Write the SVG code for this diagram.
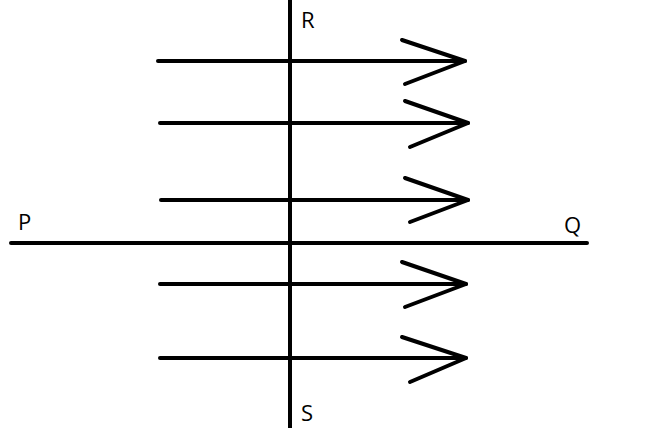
<svg xmlns="http://www.w3.org/2000/svg" width="646" height="428" viewBox="0 0 646 428">
<style>
line,polyline{stroke:#000;stroke-width:4;fill:none;stroke-linecap:round;stroke-linejoin:round}
text{font-family:"Open Sans","Liberation Sans",Arial,sans-serif;font-size:22px;fill:#000}
</style>
<rect width="646" height="428" fill="#fff"/>
<g id="axes">
<line x1="290" y1="0" x2="290" y2="428"/>
<line x1="11" y1="243" x2="587" y2="243"/>
</g>
<g id="connectors">
<line x1="158" y1="61" x2="465" y2="61"/><polyline points="402,40 465,61 405,84"/>
<line x1="160" y1="123" x2="468" y2="123"/><polyline points="405,101 468,123 410,147"/>
<line x1="161" y1="200" x2="468" y2="200"/><polyline points="405,178 468,200 410,222"/>
<line x1="160" y1="284" x2="466" y2="284"/><polyline points="402,262 466,284 405,307"/>
<line x1="160" y1="358" x2="466" y2="358"/><polyline points="402,337 466,358 410,382"/>
</g>
<g id="labels">
<text x="301" y="28">R</text>
<text x="301" y="421">S</text>
<text x="18" y="230">P</text>
<text x="564" y="233">Q</text>
</g>
</svg>
